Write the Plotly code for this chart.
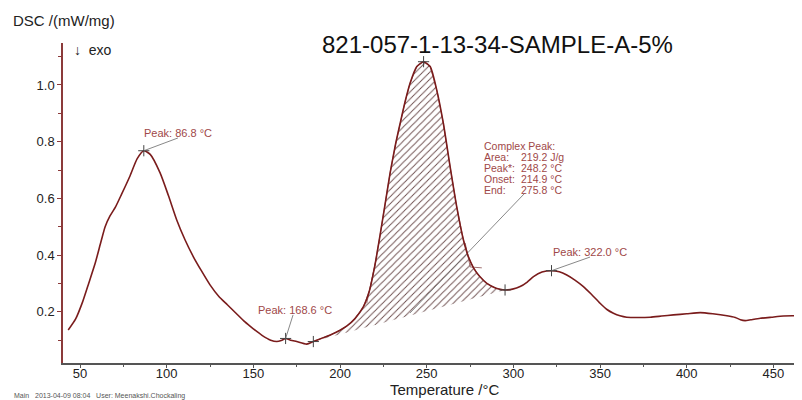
import plotly.graph_objects as go

# ---- data ----
temperature = [43.2, 47.5, 51.5, 55.0, 58.7, 62.0, 64.5, 67.3, 70.5, 74.0, 78.9, 83.0, 86.8, 90.5,
               96.2, 101.0, 105.8, 110.5, 115.4, 120.0, 125.0, 130.0, 135.0, 140.0, 145.0, 150.0,
               155.0, 160.0, 163.5, 166.5, 168.6, 171.5, 175.0, 180.8, 184.6, 190.0, 195.0, 200.0,
               204.0, 208.5, 213.5, 217.0, 220.0, 223.1, 226.0, 228.9, 232.0, 234.7, 237.5, 240.4,
               244.3, 248.2, 252.0, 255.8, 259.6, 263.5, 267.3, 271.2, 274.0, 277.0, 280.5, 284.7,
               290.0, 295.2, 299.5, 303.9, 308.0, 311.6, 316.5, 322.0, 326.5, 330.8, 335.5, 340.4,
               345.0, 350.0, 354.0, 357.7, 361.5, 365.4, 372.0, 378.9, 385.5, 392.3, 400.0, 407.8,
               415.0, 423.2, 428.0, 431.0, 433.7, 437.0, 442.4, 449.0, 455.8, 461.0, 466.4]
dsc = [0.136, 0.175, 0.235, 0.300, 0.370, 0.445, 0.500, 0.538, 0.570, 0.615, 0.680, 0.740, 0.768, 0.755,
       0.690, 0.610, 0.524, 0.455, 0.394, 0.345, 0.295, 0.255, 0.225, 0.195, 0.165, 0.140,
       0.117, 0.100, 0.095, 0.100, 0.106, 0.100, 0.095, 0.086, 0.095, 0.108, 0.120, 0.135,
       0.150, 0.175, 0.218, 0.275, 0.360, 0.470, 0.580, 0.690, 0.790, 0.865, 0.940, 1.006,
       1.065, 1.082, 1.065, 0.982, 0.865, 0.712, 0.571, 0.453, 0.395, 0.355, 0.325, 0.300,
       0.283, 0.277, 0.280, 0.289, 0.305, 0.324, 0.340, 0.345, 0.341, 0.330, 0.312, 0.289,
       0.262, 0.230, 0.208, 0.195, 0.186, 0.181, 0.180, 0.181, 0.185, 0.189, 0.193, 0.197,
       0.193, 0.186, 0.180, 0.172, 0.169, 0.172, 0.177, 0.181, 0.185, 0.186, 0.185]

# integration limits of the complex peak (baseline endpoints)
integ_start = 184.6
integ_end = 295.2

# marked points (+)
mark_t = [86.8, 168.6, 248.2, 322.0, 184.6, 295.2]
mark_v = [0.768, 0.106, 1.082, 0.345, 0.095, 0.277]

# peak labels: text, label anchor (T, v), leader end (T, v), peak (T, v)
peak_labels = [
    ("Peak: 86.8 °C", (86.3, 0.83), (106.5, 0.813), (86.8, 0.768)),
    ("Peak: 168.6 °C", (152.1, 0.206), (172.9, 0.189), (168.6, 0.106)),
    ("Peak: 322.0 °C", (322.3, 0.411), (344.2, 0.393), (322.0, 0.345)),
]
complex_keys = ["Complex Peak:", "Area:", "Peak*:", "Onset:", "End:"]
complex_vals = ["", "219.2 J/g", "248.2 °C", "214.9 °C", "275.8 °C"]
complex_leader = [(306.7, 0.619), (240.4, 0.196)]
construct_lines = [
    [(215.4, 0.23), (221.2, 0.395)],
    [(272.2, 0.443), (275.1, 0.358), (281.8, 0.355)],
]

title_text = "821-057-1-13-34-SAMPLE-A-5%"
x_ticks = [50, 100, 150, 200, 250, 300, 350, 400, 450]
y_ticks = [0.2, 0.4, 0.6, 0.8, 1.0]

# ---- styling ----
CURVE = "#7a1c1c"
LABEL = "#a04848"
LEADER = "#6a6a6a"
FONT = "Liberation Sans, Arial, sans-serif"

# page body has an 8px margin; plot area target in screen px: x 63..802, y 43..363
OFF = 8
PL, PR, PT, PB = 63, 802, 43, 363
PW, PH = PR - PL, PB - PT


def px(x):
    return (x - PL) / PW


def py(y):
    return (PB - y) / PH


def yval(y):
    # screen y -> data value (0.2 per 56.7 px, 1.0 at y=85)
    return 1.0 - (y - 85) / 283.5


fig = go.Figure()

# hatched integration area
i0 = temperature.index(integ_start)
i1 = temperature.index(integ_end)
fig.add_trace(go.Scatter(
    x=temperature[i0:i1 + 1], y=dsc[i0:i1 + 1],
    mode="lines", fill="toself",
    fillcolor="rgba(255,255,255,0)",
    fillpattern=dict(shape="/", fgcolor="#6a4a4a", bgcolor="rgba(255,255,255,0)",
                     size=5, solidity=0.18, fillmode="replace"),
    line=dict(color="#8a4a4a", width=0.8),
    hoverinfo="skip", showlegend=False))

# construct lines
for seg in construct_lines:
    fig.add_trace(go.Scatter(x=[p[0] for p in seg], y=[p[1] for p in seg], mode="lines",
                             line=dict(color="#8a5050", width=0.8), hoverinfo="skip",
                             showlegend=False))
fig.add_trace(go.Scatter(x=[p[0] for p in complex_leader], y=[p[1] for p in complex_leader],
                         mode="lines", line=dict(color=LEADER, width=0.8), hoverinfo="skip",
                         showlegend=False))

# main curve
fig.add_trace(go.Scatter(x=temperature, y=dsc, mode="lines",
                         line=dict(color=CURVE, width=1.6, shape="spline", smoothing=0.6),
                         showlegend=False))

# markers
fig.add_trace(go.Scatter(x=mark_t, y=mark_v, mode="markers",
                         marker=dict(symbol="cross-thin", size=8,
                                     line=dict(color="#444444", width=1)),
                         hoverinfo="skip", showlegend=False))

annotations = []
for text, (lt, lv), (et, ev), (pt, pv) in peak_labels:
    fig.add_trace(go.Scatter(x=[pt, et], y=[pv, ev], mode="lines",
                             line=dict(color=LEADER, width=0.8), hoverinfo="skip",
                             showlegend=False))
    annotations.append(dict(x=lt, y=lv, xref="x", yref="y", text=text, showarrow=False,
                            xanchor="left", yanchor="middle", borderpad=0,
                            font=dict(family=FONT, size=11, color=LABEL)))

for i, (k, v) in enumerate(zip(complex_keys, complex_vals)):
    yy = yval(146 + i * 11)
    annotations.append(dict(x=282.5, y=yy, xref="x", yref="y", text=k, showarrow=False,
                            xanchor="left", yanchor="middle", borderpad=0,
                            font=dict(family=FONT, size=10.5, color=LABEL)))
    if v:
        annotations.append(dict(x=303.8, y=yy, xref="x", yref="y", text=v, showarrow=False,
                                xanchor="left", yanchor="middle", borderpad=0,
                                font=dict(family=FONT, size=10.5, color=LABEL)))

# title & labels (paper coords from screen px)
annotations += [
    dict(x=px(497), y=py(45), xref="paper", yref="paper", text=title_text,
         showarrow=False, xanchor="center", yanchor="middle",
         font=dict(family=FONT, size=24, color="#111111")),
    dict(x=px(11), y=py(20), xref="paper", yref="paper", text="DSC /(mW/mg)",
         showarrow=False, xanchor="left", yanchor="middle",
         font=dict(family=FONT, size=15, color="#222222")),
    dict(x=px(72), y=py(50), xref="paper", yref="paper", text="↓  exo",
         showarrow=False, xanchor="left", yanchor="middle",
         font=dict(family=FONT, size=14, color="#222222")),
    dict(x=px(445), y=py(389), xref="paper", yref="paper",
         text="Temperature /°C", showarrow=False, xanchor="center", yanchor="middle",
         borderpad=0, font=dict(family=FONT, size=15, color="#222222")),
    dict(x=px(12), y=py(396), xref="paper", yref="paper",
         text="Main   2013-04-09 08:04   User: Meenakshi.Chockaling", showarrow=False,
         xanchor="left", yanchor="middle",
         font=dict(family=FONT, size=7, color="#555555")),
]

fig.update_layout(
    width=802 - OFF, height=400 - OFF,
    margin=dict(l=PL - OFF, r=0, t=PT - OFF, b=400 - PB, pad=0),
    paper_bgcolor="white", plot_bgcolor="white",
    annotations=annotations,
    font=dict(family=FONT),
)
fig.update_xaxes(range=[40.19, 466.5], tickvals=x_ticks, showgrid=False, zeroline=False,
                 showline=True, linecolor="#555555", linewidth=1.5,
                 ticks="outside", ticklen=3, tickcolor="#555555", ticklabelstandoff=-5,
                 minor=dict(dtick=25, tick0=0, ticks="outside", ticklen=2, tickcolor="#555555"),
                 tickfont=dict(family=FONT, size=13, color="#222222"))
fig.update_yaxes(range=[0.0194, 1.148], tickvals=y_ticks, tickformat=".1f", showgrid=False,
                 zeroline=False, showline=True, linecolor="#8b3a3a", linewidth=1.5,
                 ticks="outside", ticklen=4, tickcolor="#8b3a3a",
                 minor=dict(dtick=0.1, tick0=0, ticks="outside", ticklen=3, tickcolor="#8b3a3a"),
                 tickfont=dict(family=FONT, size=13, color="#222222"))

fig.write_html("out.html")
